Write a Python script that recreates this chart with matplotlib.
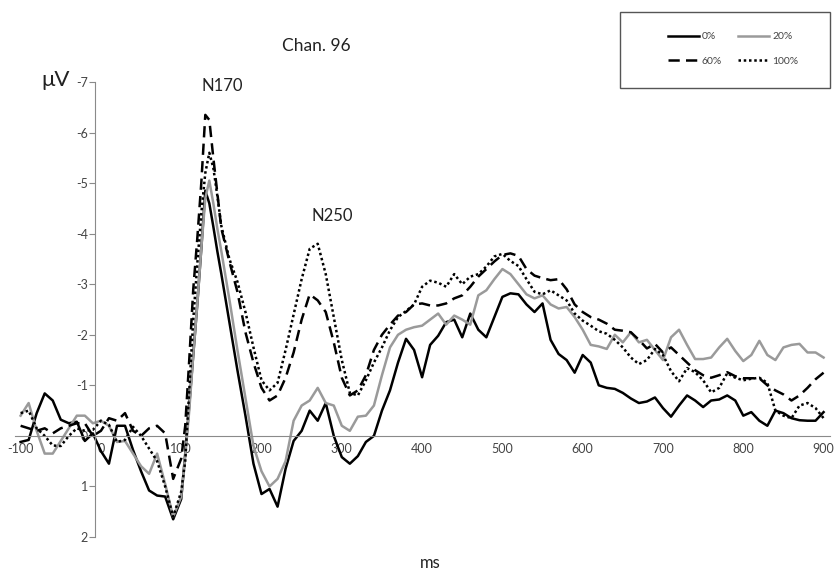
import numpy as np
import matplotlib
matplotlib.use("Agg")
import matplotlib.pyplot as plt
from matplotlib.lines import Line2D
from matplotlib.patches import Rectangle

plt.rcParams['font.family'] = ['Lato', 'DejaVu Sans']

# sample times (ms), finer around the N170 peak
times = list(range(-100, 100, 10)) + list(range(100, 150, 5)) + list(range(150, 901, 10))

# amplitudes in microvolts (negative is plotted upward)
amp_0 = [0.12, 0.08, -0.45, -0.84, -0.7, -0.32, -0.25, -0.28, 0.1, -0.05,
         0.3, 0.55, -0.2, -0.2, 0.28, 0.7, 1.08, 1.18, 1.2, 1.65,
         1.25, 0.35, -0.6, -1.6, -2.6, -3.7, -4.85, -4.6, -4.14, -3.65,
         -3.2, -2.25, -1.3, -0.4, 0.55, 1.15, 1.05, 1.4, 0.65, 0.1,
         -0.1, -0.5, -0.3, -0.65, 0.0, 0.42, 0.55, 0.4, 0.12, 0.0,
         -0.5, -0.9, -1.45, -1.92, -1.7, -1.16, -1.8, -1.98, -2.25, -2.3,
         -1.95, -2.42, -2.1, -1.95, -2.35, -2.75, -2.82, -2.8, -2.6, -2.45,
         -2.62, -1.9, -1.62, -1.5, -1.25, -1.6, -1.45, -1.0, -0.95, -0.93,
         -0.85, -0.74, -0.65, -0.68, -0.76, -0.55, -0.38, -0.6, -0.8, -0.7,
         -0.57, -0.7, -0.72, -0.8, -0.7, -0.4, -0.47, -0.3, -0.2, -0.5,
         -0.45, -0.35, -0.31, -0.3, -0.3, -0.47]

amp_20 = [-0.4, -0.65, -0.1, 0.35, 0.35, 0.1, -0.15, -0.4, -0.4, -0.25,
          -0.3, -0.2, 0.12, 0.1, 0.35, 0.6, 0.75, 0.35, 0.95, 1.6,
          1.2, 0.4, -0.5, -1.6, -2.6, -3.7, -4.7, -5.05, -4.6, -4.1,
          -3.65, -2.7, -1.7, -0.75, 0.2, 0.7, 1.0, 0.85, 0.5, -0.3,
          -0.6, -0.7, -0.95, -0.65, -0.6, -0.2, -0.1, -0.38, -0.4, -0.6,
          -1.2, -1.75, -2.0, -2.1, -2.15, -2.18, -2.3, -2.42, -2.2, -2.38,
          -2.3, -2.2, -2.78, -2.88, -3.1, -3.3, -3.2, -3.0, -2.8, -2.72,
          -2.78, -2.6, -2.52, -2.55, -2.35, -2.1, -1.8, -1.77, -1.72, -2.0,
          -1.85, -2.05, -1.85, -1.9, -1.7, -1.5, -1.95, -2.1, -1.8, -1.52,
          -1.52, -1.55, -1.75, -1.92, -1.68, -1.48, -1.6, -1.88, -1.6, -1.5,
          -1.75, -1.8, -1.82, -1.65, -1.65, -1.55]

amp_60 = [-0.2, -0.15, -0.1, -0.15, -0.05, -0.15, -0.2, -0.25, -0.25, 0.0,
          -0.1, -0.35, -0.3, -0.45, -0.1, 0.0, -0.15, -0.2, -0.05, 0.85,
          0.45, -0.2, -1.5, -2.9, -3.9, -5.0, -6.35, -6.25, -5.5, -4.8,
          -4.1, -3.45, -2.85, -2.05, -1.45, -0.95, -0.7, -0.8, -1.15, -1.65,
          -2.3, -2.8, -2.68, -2.45, -1.85, -1.15, -0.8, -0.9, -1.2, -1.7,
          -2.0, -2.2, -2.38, -2.45, -2.6, -2.62, -2.58, -2.58, -2.62, -2.72,
          -2.78, -2.95, -3.15, -3.3, -3.45, -3.58, -3.61, -3.56, -3.3, -3.17,
          -3.12, -3.08, -3.1, -2.9, -2.6, -2.45, -2.35, -2.3, -2.22, -2.1,
          -2.08, -2.05, -1.9, -1.73, -1.82, -1.65, -1.75, -1.6, -1.45, -1.3,
          -1.2, -1.15, -1.2, -1.26, -1.18, -1.14, -1.14, -1.14, -1.0, -0.9,
          -0.82, -0.7, -0.8, -0.95, -1.12, -1.25]

amp_100 = [-0.45, -0.5, -0.15, 0.0, 0.19, 0.2, 0.0, -0.15, -0.1, -0.12,
           -0.3, -0.22, 0.12, 0.08, -0.18, 0.0, 0.25, 0.5, 1.0, 1.6,
           1.1, 0.5, -0.9, -2.3, -3.4, -4.4, -5.2, -5.6, -5.3, -4.75,
           -4.15, -3.5, -3.05, -2.45, -1.75, -1.1, -0.9, -1.05, -1.7, -2.4,
           -3.1, -3.7, -3.8, -3.2, -2.35, -1.5, -0.85, -0.8, -1.1, -1.45,
           -1.75, -2.09, -2.35, -2.47, -2.6, -2.95, -3.07, -3.03, -2.95, -3.2,
           -3.0, -3.15, -3.2, -3.35, -3.55, -3.6, -3.46, -3.36, -3.1, -2.85,
           -2.8, -2.88, -2.78, -2.68, -2.42, -2.28, -2.18, -2.07, -2.02, -1.9,
           -1.75, -1.55, -1.42, -1.5, -1.72, -1.6, -1.28, -1.08, -1.34, -1.26,
           -1.1, -0.86, -0.95, -1.24, -1.15, -1.1, -1.13, -1.15, -1.05, -0.5,
           -0.4, -0.35, -0.6, -0.65, -0.55, -0.35]

labels = ["0%", "20%", "60%", "100%"]
x_ticks = list(range(-100, 901, 100))
y_ticks = [-7, -6, -5, -4, -3, -2, -1, 0, 1, 2]

W, H = 839, 573
fig = plt.figure(figsize=(W / 100, H / 100), dpi=100)
# axes placed in pixels: x -107..908 -> 15..830, y -7..2 -> 82..537
ax = fig.add_axes([15 / W, 1 - 537 / H, 815 / W, 455 / H])

lw = 1.8
l0, = ax.plot(times, amp_0, color="black", lw=lw, solid_joinstyle="round")
l20, = ax.plot(times, amp_20, color="#9a9a9a", lw=lw, solid_joinstyle="round")
l60, = ax.plot(times, amp_60, color="black", lw=lw, dashes=(4.5, 2.5))
l100, = ax.plot(times, amp_100, color="black", lw=lw, dashes=(1.0, 1.1))

ax.set_xlim(-107, 908)
ax.set_ylim(2, -7)

axis_col = "#8a8a8a"
for s in ["top", "right"]:
    ax.spines[s].set_visible(False)
ax.spines["left"].set_position(("data", -7.5))
ax.spines["left"].set_color(axis_col)
ax.spines["bottom"].set_position(("data", 0))
ax.spines["bottom"].set_color(axis_col)

ax.set_yticks(y_ticks)
ax.set_yticklabels([str(v) for v in y_ticks])
ax.set_xticks(x_ticks)
ax.set_xticklabels([str(v) for v in x_ticks])
ax.tick_params(axis="y", direction="out", length=4, color=axis_col,
               labelsize=9, labelcolor="#444444", pad=1)
ax.tick_params(axis="x", length=0, labelsize=9, labelcolor="#444444", pad=5)

ax.text(151, -6.92, "N170", fontsize=12, ha="center", va="center", color="#222222")
ax.text(288, -4.35, "N250", fontsize=12, ha="center", va="center", color="#222222")

fig.text(316 / W, 1 - 46 / H, "Chan. 96", fontsize=12.5, ha="center", va="center", color="#222222")
fig.text(56 / W, 1 - 80 / H, "μV", fontsize=16, ha="center", va="center", color="#222222")
fig.text(430 / W, 1 - 563 / H, "ms", fontsize=12, ha="center", va="center", color="#222222")

# legend with its own box
fig.patches.append(Rectangle((620 / W, 1 - 88 / H), 210 / W, 76 / H,
                             transform=fig.transFigure, fill=False,
                             edgecolor="#555555", lw=1.0))
fig.legend([l0, l60, l20, l100], ["0%", "60%", "20%", "100%"], ncol=2,
           loc="center", bbox_to_anchor=(733 / W, 1 - 49 / H), frameon=False,
           fontsize=7.5, handlelength=3.0, handletextpad=0.3, columnspacing=1.5,
           labelspacing=1.5, labelcolor="#444444")

fig.savefig("out.png", dpi=100)
